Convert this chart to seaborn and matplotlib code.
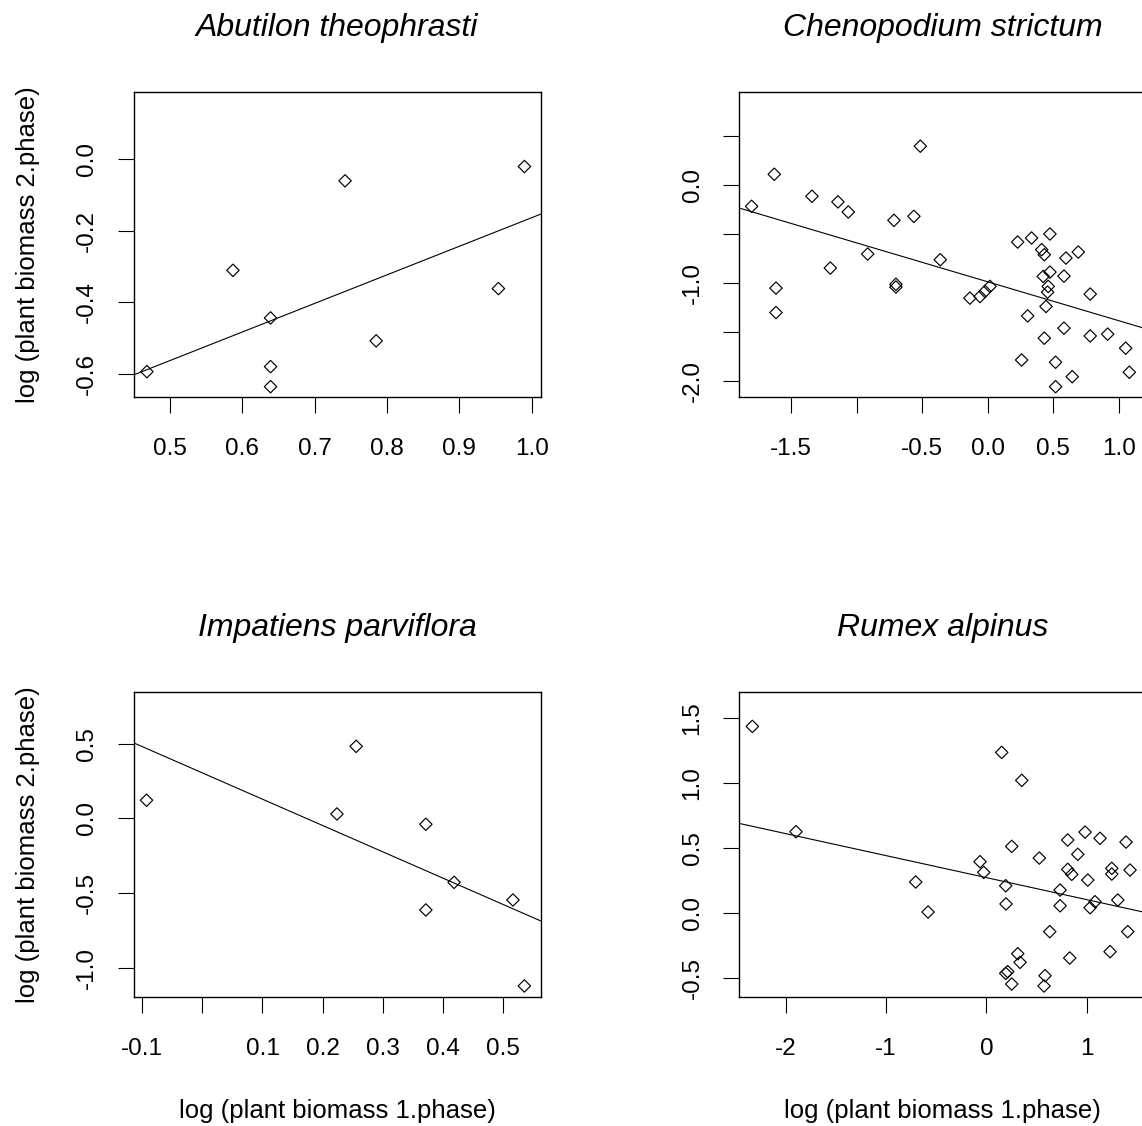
import numpy as np
import pandas as pd
import matplotlib
matplotlib.use("Agg")
import matplotlib.pyplot as plt
import seaborn as sns

# ---------------- data ----------------
titles = ["Abutilon theophrasti", "Chenopodium strictum",
          "Impatiens parviflora", "Rumex alpinus"]

abu_x = [0.468, 0.587, 0.639, 0.639, 0.639, 0.742, 0.785, 0.954, 0.990]
abu_y = [-0.594, -0.311, -0.444, -0.580, -0.636, -0.061, -0.508, -0.362, -0.021]

che_x = [-1.800, -1.627, -1.614, -1.614, -1.340, -1.200, -1.142, -1.063, -0.915,
         -0.715, -0.700, -0.700, -0.563, -0.514, -0.362, -0.136, -0.059, -0.021,
         0.017, 0.228, 0.304, 0.334, 0.258, 0.411, 0.431, 0.474, 0.423, 0.474,
         0.461, 0.456, 0.444, 0.431, 0.517, 0.517, 0.596, 0.581, 0.581, 0.644,
         0.690, 0.781, 0.781, 0.914, 1.051, 1.079]
che_y = [-0.218, 0.108, -1.051, -1.300, -0.116, -0.847, -0.173, -0.276, -0.704,
         -0.361, -1.012, -1.040, -0.320, 0.394, -0.762, -1.153, -1.137, -1.085,
         -1.034, -0.582, -1.334, -0.541, -1.783, -0.660, -0.711, -0.500, -0.932,
         -0.888, -1.034, -1.092, -1.238, -1.561, -1.806, -2.055, -0.745, -0.929,
         -1.459, -1.953, -0.684, -1.112, -1.538, -1.520, -1.663, -1.908]

imp_x = [-0.093, 0.224, 0.256, 0.372, 0.372, 0.419, 0.517, 0.536]
imp_y = [0.121, 0.029, 0.482, -0.040, -0.614, -0.429, -0.547, -1.123]

rum_x = [-2.333, -1.898, -0.705, -0.582, -0.064, -0.027, 0.152, 0.192, 0.195,
         0.252, 0.352, 0.192, 0.212, 0.252, 0.312, 0.335, 0.527, 0.584, 0.574,
         0.631, 0.734, 0.734, 0.810, 0.810, 0.850, 0.830, 0.910, 0.983, 1.010,
         1.033, 1.082, 1.132, 1.232, 1.249, 1.249, 1.309, 1.391, 1.431, 1.408]
rum_y = [1.438, 0.628, 0.241, 0.010, 0.397, 0.315, 1.238, 0.212, 0.072,
         0.515, 1.023, -0.462, -0.449, -0.544, -0.311, -0.377, 0.425, -0.480,
         -0.559, -0.141, 0.179, 0.058, 0.564, 0.338, 0.300, -0.344, 0.454,
         0.625, 0.256, 0.043, 0.089, 0.577, -0.295, 0.346, 0.302, 0.102,
         0.548, 0.333, -0.141]

# fitted regression lines (intercept, slope) as drawn in the reference
intercepts = [-0.962, -0.987, 0.304, 0.2745]
slopes = [0.798, -0.3966, -1.760, -0.1693]

xs = [abu_x, che_x, imp_x, rum_x]
ys = [abu_y, che_y, imp_y, rum_y]

xlims = [(0.4495, 1.0129), (-1.896, 1.21), (-0.1147, 0.5637), (-2.466, 1.595)]
ylims = [(-0.664, 0.188), (-2.157, 0.949), (-1.195, 0.848), (-0.6415, 1.705)]

xticks = [[0.5, 0.6, 0.7, 0.8, 0.9, 1.0],
          [-1.5, -1.0, -0.5, 0.0, 0.5, 1.0],
          [-0.1, 0.0, 0.1, 0.2, 0.3, 0.4, 0.5],
          [-2, -1, 0, 1]]
xticklabels = [["0.5", "0.6", "0.7", "0.8", "0.9", "1.0"],
               ["-1.5", "", "-0.5", "0.0", "0.5", "1.0"],
               ["-0.1", "", "0.1", "0.2", "0.3", "0.4", "0.5"],
               ["-2", "-1", "0", "1"]]
yticks = [[0.0, -0.2, -0.4, -0.6],
          [0.5, 0.0, -0.5, -1.0, -1.5, -2.0],
          [0.5, 0.0, -0.5, -1.0],
          [1.5, 1.0, 0.5, 0.0, -0.5]]
yticklabels = [["0.0", "-0.2", "-0.4", "-0.6"],
               ["", "0.0", "", "-1.0", "", "-2.0"],
               ["0.5", "0.0", "-0.5", "-1.0"],
               ["1.5", "1.0", "0.5", "0.0", "-0.5"]]

xlabel = "log (plant biomass 1.phase)"
ylabel = "log (plant biomass 2.phase)"

# ---------------- style ----------------
sns.set_theme(style="ticks")
plt.rcParams["font.family"] = ["Liberation Sans", "DejaVu Sans"]
plt.rcParams["axes.unicode_minus"] = False

W, H = 1142, 1126
fig = plt.figure(figsize=(W / 100, H / 100), dpi=100)

# axes boxes in pixels: (left, top, width, height)
boxes = [(133.5, 91.7, 407.5, 305.0), (739.0, 91.7, 407.5, 305.0),
         (133.5, 691.7, 407.5, 305.0), (739.0, 691.7, 407.5, 305.0)]

for i in range(4):
    l, t, w, h = boxes[i]
    ax = fig.add_axes([l / W, 1 - (t + h) / H, w / W, h / H])
    df = pd.DataFrame({"x": xs[i], "y": ys[i]})
    ax.set_xlim(*xlims[i])
    ax.set_ylim(*ylims[i])
    sns.scatterplot(data=df, x="x", y="y", ax=ax, marker="D", s=40,
                    facecolor="none", edgecolor="black", linewidth=0.85,
                    zorder=3)
    lx = np.array(xlims[i])
    line_df = pd.DataFrame({"x": lx, "y": intercepts[i] + slopes[i] * lx})
    sns.lineplot(data=line_df, x="x", y="y", ax=ax, color="black",
                 linewidth=0.8, zorder=2)
    ax.set_xlim(*xlims[i])
    ax.set_ylim(*ylims[i])

    ax.set_xticks(xticks[i])
    ax.set_xticklabels(xticklabels[i])
    ax.set_yticks(yticks[i])
    ax.set_yticklabels(yticklabels[i], rotation=90, va="center")
    ax.tick_params(axis="both", direction="out", length=11.5, width=0.8,
                   color="black", labelsize=17.5, labelcolor="black")
    ax.tick_params(axis="x", pad=18)
    ax.tick_params(axis="y", pad=14)
    for sp in ax.spines.values():
        sp.set_visible(True)
        sp.set_color("black")
        sp.set_linewidth(1.0)

    ax.set_title(titles[i], fontsize=23, fontstyle="italic", pad=40,
                 color="black")
    if i >= 2:
        ax.set_xlabel(xlabel, fontsize=18.5, labelpad=28, color="black")
    else:
        ax.set_xlabel("")
    if i % 2 == 0:
        ax.set_ylabel(ylabel, fontsize=18.5, labelpad=26, color="black")
    else:
        ax.set_ylabel("")

fig.savefig("out.png", dpi=100)
